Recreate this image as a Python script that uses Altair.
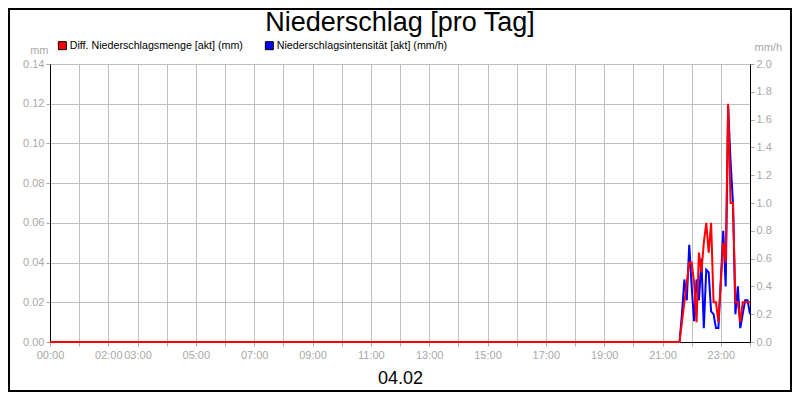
import altair as alt
import pandas as pd

# ---- data ----
times = ["00:00", "21:35", "21:40", "21:45", "21:50", "21:55", "22:00", "22:05", "22:10",
         "22:15", "22:20", "22:25", "22:30", "22:35", "22:40", "22:45", "22:50", "22:55",
         "23:00", "23:05", "23:10", "23:15", "23:20", "23:25", "23:30", "23:35", "23:40",
         "23:45", "23:50", "23:55", "24:00"]
diff_mm = [0.0, 0.0, 0.01, 0.02, 0.03, 0.04, 0.04, 0.03, 0.01,
           0.045, 0.035, 0.05, 0.06, 0.045, 0.06, 0.02, 0.02, 0.01,
           0.03, 0.05, 0.04, 0.12, 0.07, 0.07, 0.02, 0.02, 0.01,
           0.02, 0.02, 0.02, 0.02]
intens_mmh = [0.0, 0.0, 0.2, 0.45, 0.3, 0.7, 0.4, 0.15, 0.45,
              0.3, 0.6, 0.1, 0.52, 0.5, 0.22, 0.2, 0.1, 0.1,
              0.45, 0.8, 0.4, 1.7, 1.3, 1.0, 0.2, 0.4, 0.1,
              0.2, 0.3, 0.3, 0.2]
series_names = ["Diff. Niederschlagsmenge [akt] (mm)", "Niederschlagsintensität [akt] (mm/h)"]
series_colors = ["#ff0000", "#0000ff"]
x_tick_hours = list(range(25))
x_label_hours = [0, 2, 3, 5, 7, 9, 11, 13, 15, 17, 19, 21, 23]
left_ticks = [0.0, 0.02, 0.04, 0.06, 0.08, 0.10, 0.12, 0.14]
right_ticks = [0.0, 0.2, 0.4, 0.6, 0.8, 1.0, 1.2, 1.4, 1.6, 1.8, 2.0]
date_label = "04.02"
title_text = "Niederschlag [pro Tag]"


def to_hours(t):
    h, m = t.split(":")
    return int(h) + int(m) / 60.0


df = pd.DataFrame({
    "time": times,
    "hour": [to_hours(t) for t in times],
    "mm": diff_mm,
    "mmh": intens_mmh,
})
legend_df = pd.DataFrame({"series": series_names})
frame_df = pd.DataFrame({"k": [0]})
title_df = pd.DataFrame({"title": [title_text]})

GRAY = "#a8a8a8"
FONT = "Liberation Sans"

label_expr = (f"indexof({x_label_hours}, datum.value) >= 0 ? "
              "(datum.value < 10 ? '0' : '') + datum.value + ':00' : ''")

x_enc = alt.X(
    "hour:Q",
    scale=alt.Scale(domain=[0, 24], nice=False, zero=False),
    axis=alt.Axis(values=x_tick_hours, labelExpr=label_expr, labelOverlap=False,
                  grid=True, gridColor="#c0c0c0", tickColor=GRAY, tickSize=4,
                  labelColor=GRAY, labelFontSize=11, labelPadding=3, labelFlush=False,
                  domainColor="black", title=date_label, titleFontSize=18,
                  titleColor="black", titleFontWeight="normal", titleY=36,
                  titleBaseline="middle"),
)

blue = alt.Chart(df).mark_line(color=series_colors[1], strokeWidth=2).encode(
    x=x_enc,
    y=alt.Y("mmh:Q", scale=alt.Scale(domain=[0, 2.0], nice=False),
            axis=alt.Axis(orient="right", values=right_ticks, format=".1f", grid=False,
                          tickColor=GRAY, tickSize=4, labelColor=GRAY, labelFontSize=11,
                          labelPadding=2, labelFlush=False, domainColor="black",
                          title="mm/h", titleAngle=0, titleX=4, titleY=-17,
                          titleAlign="left", titleBaseline="middle", titleFontSize=11,
                          titleColor=GRAY, titleFontWeight="normal")),
)

red = alt.Chart(df).mark_line(color=series_colors[0], strokeWidth=2).encode(
    x=x_enc,
    y=alt.Y("mm:Q", scale=alt.Scale(domain=[0, 0.14], nice=False),
            axis=alt.Axis(orient="left", values=left_ticks, format=".2f", grid=True,
                          gridColor="#c0c0c0", tickColor=GRAY, tickSize=4,
                          labelColor=GRAY, labelFontSize=11, labelPadding=2,
                          labelFlush=False, domainColor="black",
                          title="mm", titleAngle=0, titleX=-2, titleY=-14,
                          titleAlign="right", titleBaseline="middle", titleFontSize=11,
                          titleColor=GRAY, titleFontWeight="normal")),
)

leg = alt.Chart(legend_df).mark_square(size=64, opacity=1).encode(
    fill=alt.Fill("series:N",
                  scale=alt.Scale(domain=series_names, range=series_colors),
                  legend=alt.Legend(orient="none", legendX=7, legendY=-24,
                                    direction="horizontal", title=None,
                                    symbolType="square", symbolSize=64,
                                    symbolStrokeColor="black", symbolStrokeWidth=1,
                                    symbolOpacity=1, labelFontSize=10.7,
                                    labelColor="black", labelFont=FONT, labelLimit=400,
                                    columnPadding=20, labelOffset=2, padding=0)),
).transform_filter("false")

title_mark = alt.Chart(title_df).mark_text(fontSize=27, font=FONT, color="black",
                                           align="center", baseline="middle",
                                           clip=False).encode(
    text="title:N", x=alt.value(350), y=alt.value(-41)
)

frame = alt.Chart(frame_df).mark_rect(fill=None, stroke="black", strokeWidth=2,
                                      clip=False).encode(
    x=alt.value(-41), x2=alt.value(741), y=alt.value(-55), y2=alt.value(327)
)

chart = alt.layer(blue, red, leg, title_mark, frame).resolve_scale(y="independent").properties(
    width=700, height=278,
    padding={"left": 42, "top": 56, "right": 42, "bottom": 50},
    autosize=alt.AutoSizeParams(type="none"),
    background="white",
).configure(font=FONT).configure_view(stroke="black", strokeWidth=1)

chart.save("out.html", embed_options={"renderer": "svg", "actions": False})
